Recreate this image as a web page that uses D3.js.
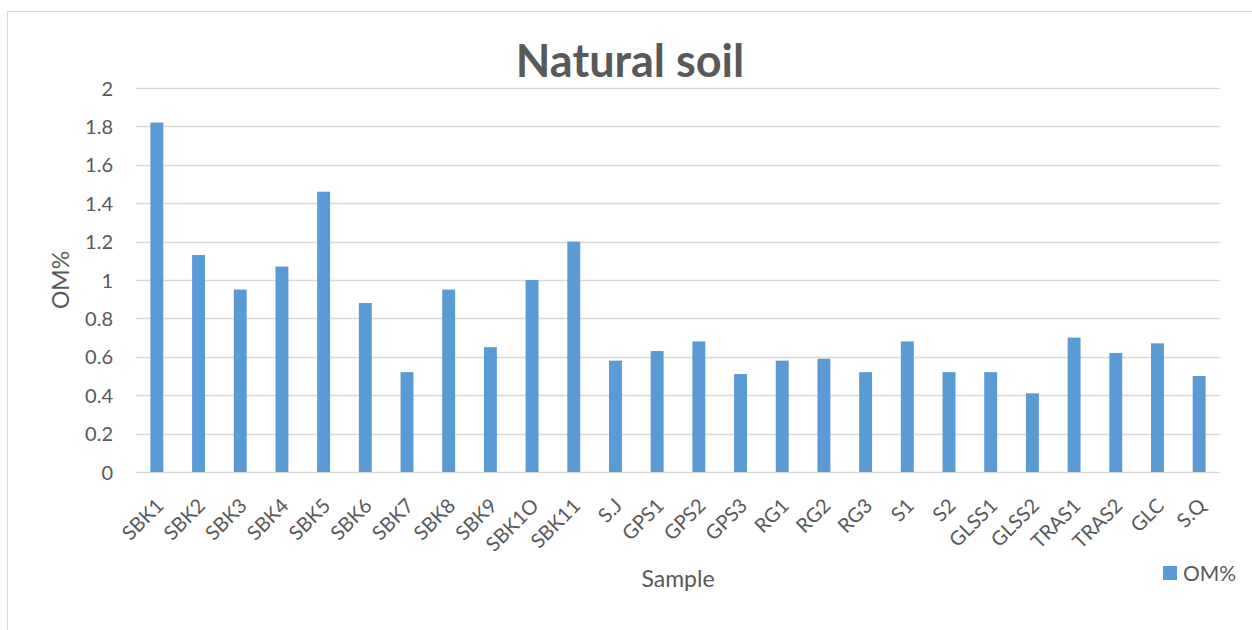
<!DOCTYPE html>
<html>
<head>
<meta charset="utf-8">
<script src="https://cdn.jsdelivr.net/npm/d3@7"></script>
<style>
  body { margin: 0; background: #fff; }
  text { font-family: Lato, "Open Sans", sans-serif; fill: #595959; }
</style>
</head>
<body>
<div class="graph"></div>
<script>
//Sample names along the x axis
const samples = ["SBK1", "SBK2", "SBK3", "SBK4", "SBK5", "SBK6", "SBK7", "SBK8", "SBK9", "SBK1O", "SBK11",
    "S.J", "GPS1", "GPS2", "GPS3", "RG1", "RG2", "RG3", "S1", "S2", "GLSS1", "GLSS2", "TRAS1", "TRAS2", "GLC", "S.Q"];

//OM% value of each sample
const omValues = [1.82, 1.13, 0.95, 1.07, 1.46, 0.88, 0.52, 0.95, 0.65, 1.0, 1.2,
    0.58, 0.63, 0.68, 0.51, 0.58, 0.59, 0.52, 0.68, 0.52, 0.52, 0.41, 0.70, 0.62, 0.67, 0.50];

//Y axis ticks
const yTicks = [0, 0.2, 0.4, 0.6, 0.8, 1, 1.2, 1.4, 1.6, 1.8, 2];

const data = samples.map((s, i) => ({sample: s, om: omValues[i]}));

let WIDTH = 1252,
    HEIGHT = 630;

let svg = d3.select(".graph")
    .append("svg")
    .attr("width", WIDTH)
    .attr("height", HEIGHT);

//Chart border
svg.append("rect")
    .attr("x", 7.5)
    .attr("y", 11.5)
    .attr("width", 1260)
    .attr("height", 640)
    .style("fill", "none")
    .style("stroke", "#d9d9d9");

let plotLeft = 136, plotRight = 1220, plotTop = 88, plotBottom = 472;

let xScale = d3.scaleBand().domain(samples).range([plotLeft, plotRight]).paddingInner(0.69).paddingOuter(0.345);
let yScale = d3.scaleLinear().domain([0, 2]).range([plotBottom, plotTop]);

//Gridlines
svg.append("g")
    .selectAll("line")
    .data(yTicks)
    .enter()
    .append("line")
    .attr("x1", plotLeft)
    .attr("x2", plotRight)
    .attr("y1", d => Math.round(yScale(d)) + 0.5)
    .attr("y2", d => Math.round(yScale(d)) + 0.5)
    .style("stroke", "#d9d9d9")
    .style("stroke-width", 1.5);

//Y axis labels
svg.append("g")
    .selectAll("text")
    .data(yTicks)
    .enter()
    .append("text")
    .attr("x", 113)
    .attr("y", d => yScale(d) + 7.5)
    .attr("text-anchor", "end")
    .attr("font-size", "20px")
    .text(d => d3.format("")(d));

//Bars
svg.append("g")
    .selectAll("rect")
    .data(data)
    .enter()
    .append("rect")
    .attr("x", d => xScale(d.sample))
    .attr("y", d => yScale(d.om))
    .attr("width", xScale.bandwidth())
    .attr("height", d => yScale(0) - yScale(d.om))
    .style("fill", "#5b9bd5");

//X axis labels, rotated
svg.append("g")
    .selectAll("text")
    .data(samples)
    .enter()
    .append("text")
    .attr("text-anchor", "end")
    .attr("font-size", "20px")
    .attr("transform", d => `translate(${xScale(d) + xScale.bandwidth() / 2 + 8}, 507) rotate(-45)`)
    .text(d => d);

//Title
svg.append("text")
    .attr("x", 630)
    .attr("y", 77)
    .attr("text-anchor", "middle")
    .attr("font-size", "45px")
    .attr("font-weight", "bold")
    .text("Natural soil");

//Axis titles
svg.append("text")
    .attr("x", 678)
    .attr("y", 587)
    .attr("text-anchor", "middle")
    .attr("font-size", "23px")
    .text("Sample");

svg.append("text")
    .attr("transform", `translate(69, 280) rotate(-90)`)
    .attr("text-anchor", "middle")
    .attr("font-size", "23px")
    .text("OM%");

//Legend
svg.append("rect")
    .attr("x", 1163)
    .attr("y", 566)
    .attr("width", 14)
    .attr("height", 14)
    .style("fill", "#5b9bd5");

svg.append("text")
    .attr("x", 1183)
    .attr("y", 581)
    .attr("font-size", "21px")
    .text("OM%");
</script>
</body>
</html>
